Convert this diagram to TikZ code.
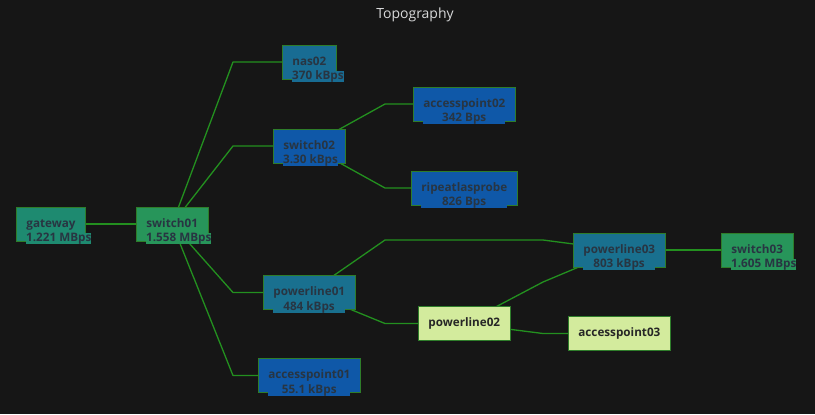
\documentclass[tikz,border=0pt]{standalone}
\usepackage{fontspec}
\setmainfont{Open Sans}
\usepackage{xcolor}
\usepackage{tikz}
\usetikzlibrary{positioning, calc}

\definecolor{bgc}{HTML}{161616}
\definecolor{linkc}{HTML}{23901F}
\definecolor{boxline}{HTML}{2E7D2A}
\definecolor{txt}{HTML}{283542}
\definecolor{titlec}{HTML}{D8D9DA}
\definecolor{gwc}{HTML}{1E8A70}
\definecolor{swc}{HTML}{27955A}
\definecolor{nasc}{HTML}{186C93}
\definecolor{bluc}{HTML}{0F58A8}
\definecolor{plc}{HTML}{19708F}
\definecolor{ltc}{HTML}{D3EB9D}

\pgfdeclarelayer{links}
\pgfsetlayers{links,main}

\newcommand{\lblfont}{\fontsize{11.7bp}{13bp}\selectfont\bfseries}
\newcommand{\padval}[2]{\ooalign{\phantom{#1}\cr\hfil#2\hfil\cr}}

\tikzset{
  dev/.style={draw=boxline, line width=0.8bp, inner xsep=10bp, inner ysep=0pt,
              minimum height=34bp, text height=8.5bp, text depth=2.5bp,
              anchor=west, font=\lblfont, text=txt},
  devval/.style={inner sep=0pt, text height=8.5bp, text depth=2.5bp,
                 anchor=west, font=\lblfont, text=txt},
  link/.style={draw=linkc, line width=1.3bp, line join=round}
}

\begin{document}
\begin{tikzpicture}[x=1bp, y=-1bp]
\useasboundingbox (0,0) rectangle (815,414);

\node[font=\fontsize{14bp}{16bp}\selectfont, text=titlec] (title) at (415,15) {Topography};

%devices
\node[dev, fill=gwc] (gw) at (16,224) {gateway};
\node[devval, fill=gwc] (gwv) at ([xshift=10bp,yshift=2.5bp]gw.south west) {\padval{gateway}{1.221 MBps}};

\node[dev, fill=swc] (sw01) at (136,224) {switch01};
\node[devval, fill=swc] (sw01v) at ([xshift=10bp,yshift=2.5bp]sw01.south west) {\padval{switch01}{1.558 MBps}};

\node[dev, fill=nasc] (nas02) at (282,62) {nas02};
\node[devval, fill=nasc] (nas02v) at ([xshift=10bp,yshift=2.5bp]nas02.south west) {\padval{nas02}{370 kBps}};

\node[dev, fill=bluc] (sw02) at (273,146) {switch02};
\node[devval, fill=bluc] (sw02v) at ([xshift=10bp,yshift=2.5bp]sw02.south west) {\padval{switch02}{3.30 kBps}};

\node[dev, fill=bluc] (ap02) at (413,104) {accesspoint02};
\node[devval, fill=bluc] (ap02v) at ([xshift=10bp,yshift=2.5bp]ap02.south west) {\padval{accesspoint02}{342 Bps}};

\node[dev, fill=bluc] (ripe) at (411,188) {ripeatlasprobe};
\node[devval, fill=bluc] (ripev) at ([xshift=10bp,yshift=2.5bp]ripe.south west) {\padval{ripeatlasprobe}{826 Bps}};

\node[dev, fill=plc] (pl01) at (263,292.5) {powerline01};
\node[devval, fill=plc] (pl01v) at ([xshift=10bp,yshift=2.5bp]pl01.south west) {\padval{powerline01}{484 kBps}};

\node[dev, fill=bluc] (ap01) at (258,375.5) {accesspoint01};
\node[devval, fill=bluc] (ap01v) at ([xshift=10bp,yshift=2.5bp]ap01.south west) {\padval{accesspoint01}{55.1 kBps}};

\node[dev, fill=ltc, text=black!85] (pl02) at (418,323.5) {powerline02};

\node[dev, fill=plc] (pl03) at (573,250) {powerline03};
\node[devval, fill=plc] (pl03v) at ([xshift=10bp,yshift=2.5bp]pl03.south west) {\padval{powerline03}{803 kBps}};

\node[dev, fill=swc] (sw03) at (721,250) {switch03};
\node[devval, fill=swc] (sw03v) at ([xshift=10bp,yshift=2.5bp]sw03.south west) {\padval{switch03}{1.605 MBps}};

\node[dev, fill=ltc, text=black!85] (ap03) at (568,333.5) {accesspoint03};

%bends
\coordinate (b1) at (233,0);
\coordinate (b2) at (385,0);
\coordinate (b3) at (543,0);
\coordinate (j1) at (385,240);
\coordinate (j2) at (543,240);
\coordinate (j3) at (543,282);

\begin{pgfonlayer}{links}
\fill[bgc] (0,0) rectangle (815,414);
\draw[link] (gw.center) -- (sw01.center);
\draw[link] (sw01.center) -- (b1 |- nas02.center) -- (nas02.center);
\draw[link] (sw01.center) -- (b1 |- sw02.center) -- (sw02.center);
\draw[link] (sw01.center) -- (b1 |- pl01.center) -- (pl01.center);
\draw[link] (sw01.center) -- (b1 |- ap01.center) -- (ap01.center);
\draw[link] (sw02.center) -- (b2 |- ap02.center) -- (ap02.center);
\draw[link] (sw02.center) -- (b2 |- ripe.center) -- (ripe.center);
\draw[link] (pl01.center) -- (j1) -- (j2) -- (pl03.center);
\draw[link] (pl01.center) -- (b2 |- pl02.center) -- (pl02.center);
\draw[link] (pl02.center) -- (j3) -- (pl03.center);
\draw[link] (pl02.center) -- (b3 |- ap03.center) -- (ap03.center);
\draw[link] (pl03.center) -- (sw03.center);
\end{pgfonlayer}
\end{tikzpicture}
\end{document}
